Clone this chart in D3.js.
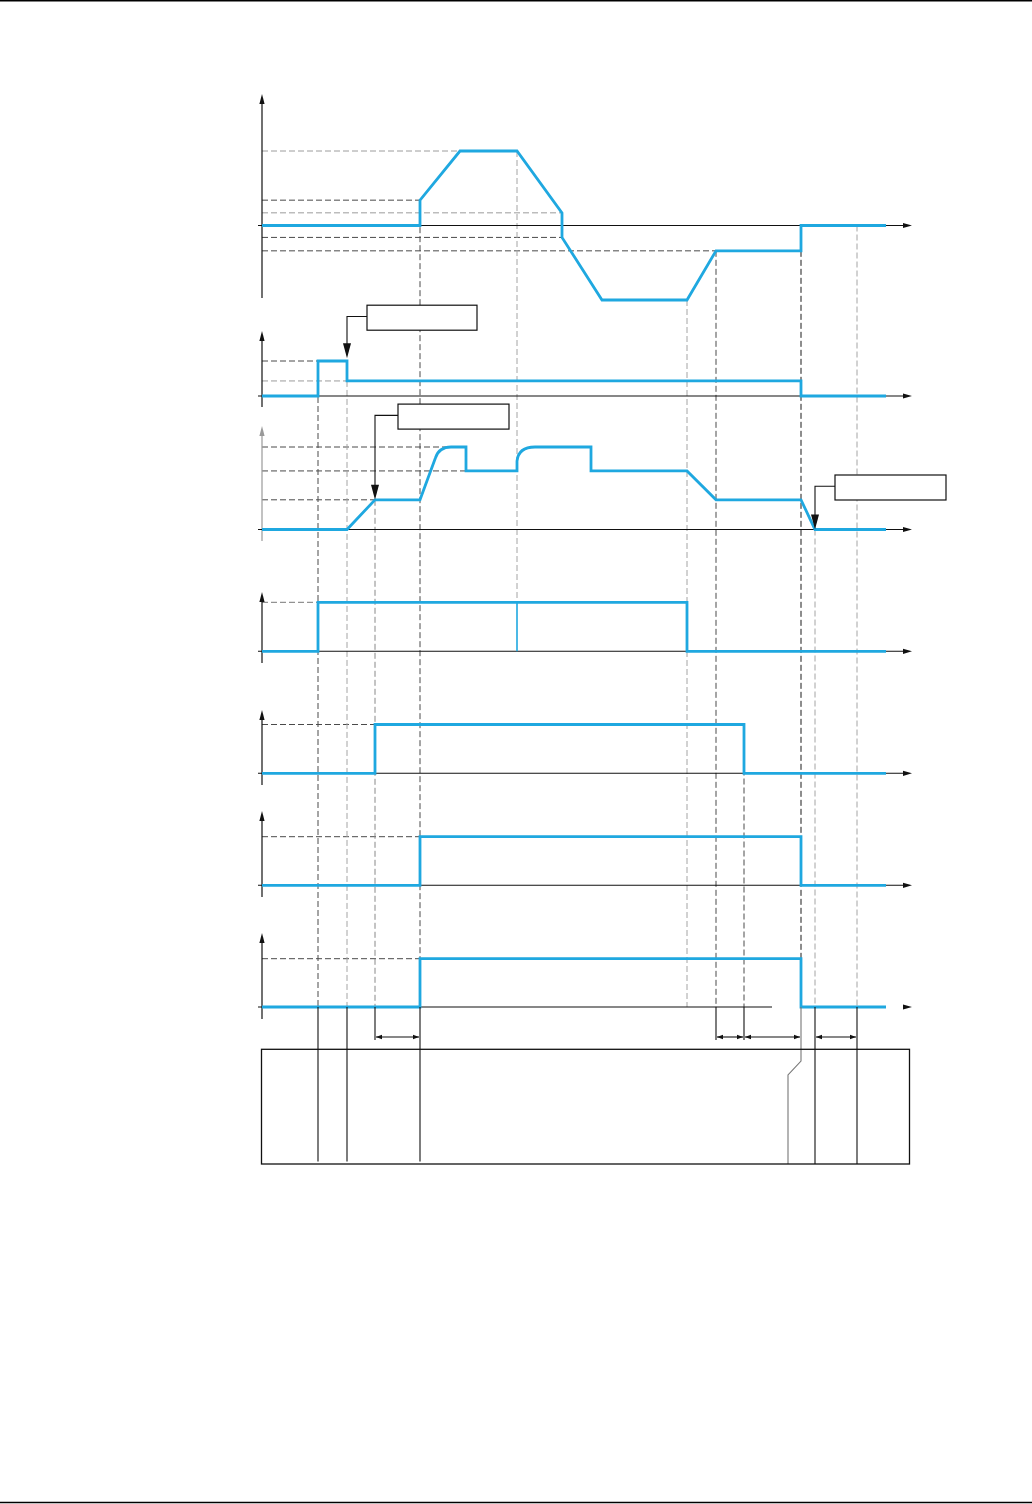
<!DOCTYPE html>
<html>
<head>
<meta charset="utf-8">
<title>Timing diagram</title>
<script src="https://cdn.jsdelivr.net/npm/d3@7"></script>
<style>
body { margin: 0; background: #fff; }
svg { display: block; }
</style>
</head>
<body>
<svg id="chart" width="1032" height="1504"></svg>
<script>
// common time axis (arbitrary units)
var timeEnd = 62.4;

// traces, [time, value]; a point flagged 'q' is a bend control point
var trace1 = [[0,0],[15.8,0],[15.8,34],[19.8,100],[25.5,100],[30,17],[30,-16],[34,-100],[42.5,-100],[45.4,-34],[53.9,-34],[53.9,0],[62.4,0]];
var trace2 = [[0,0],[5.6,0],[5.6,1],[8.5,1],[8.5,0.43],[53.9,0.43],[53.9,0],[62.4,0]];
var trace3 = [[0,0],[8.5,0],[11.3,36],[15.8,36],[17.35,87],[17.7,100,'q'],[18.9,100],[20.4,100],[20.4,71],[25.5,71],[25.5,83],[25.65,100,'q'],[27.3,100],[32.9,100],[32.9,71],[42.5,71],[45.4,36],[53.9,36],[55.3,0],[62.4,0]];
var trace4 = [[0,0],[5.6,0],[5.6,1],[42.5,1],[42.5,0],[62.4,0]];
var trace5 = [[0,0],[11.3,0],[11.3,1],[48.2,1],[48.2,0],[62.4,0]];
var trace6 = [[0,0],[15.8,0],[15.8,1],[53.9,1],[53.9,0],[62.4,0]];
var trace7 = [[0,0],[15.8,0],[15.8,1],[53.9,1],[53.9,0],[62.4,0]];
var traces = [trace1, trace2, trace3, trace4, trace5, trace6, trace7];

// extra thin edge in trace 4
var blip4 = [25.5, 0, 1];

// horizontal reference levels: [panel, value, time where it stops]
var levelsDark = [[0,34,15.8],[0,-16,30],[0,-34,45.4],[1,1,5.6],[2,100,19.3],[2,71,20.4],[2,36,11.3],[4,1,11.3],[5,1,15.8],[6,1,15.8]];
var levelsMid = [[3,1,5.6]];
var levelsLight = [[0,100,19.8],[0,17,30],[1,0.43,8.5]];

// vertical event lines: [time, panel, value where it starts]
var eventsDark = [[5.6,1,1],[15.8,0,34],[45.4,0,-34],[48.2,4,1]];
var eventsBlack = [[53.9,0,-34]];
var eventsMid = [[11.3,2,36]];
var eventsLight = [[8.5,1,0.43],[42.5,0,-100],[55.3,2,0],[59.5,0,0]];
var eventShort = [25.5,0,100,3,1]; // stops at panel 3 level

// below the last panel
var dropsLong = [5.6, 8.5, 15.8, 55.3, 59.5];
var dropsShort = [11.3, 45.4, 48.2];
var dropJog = 53.9;
var spans = [[11.3,15.8],[45.4,48.2],[48.2,53.9],[55.3,59.5]];

// callouts: [time, panel, value] of the arrow tip
var callouts = [[8.5,1,1.08],[11.3,2,36],[55.3,2,0]];

// ---- layout ----
var blue = "#1fa8e0";
var panels = [
  {zero: 225.5, ref: 100, refY: 151, top: 94, bottom: 298},
  {zero: 396, ref: 1, refY: 361, top: 331, bottom: 407},
  {zero: 529.5, ref: 100, refY: 447, top: 426, bottom: 541, axisColor: "#999"},
  {zero: 651.3, ref: 1, refY: 602.3, top: 592, bottom: 663},
  {zero: 773.3, ref: 1, refY: 724.5, top: 710, bottom: 785},
  {zero: 885.3, ref: 1, refY: 836.7, top: 811, bottom: 897},
  {zero: 1007, ref: 1, refY: 958.7, top: 933, bottom: 1019, lineEnd: 772}
];
var calloutBoxes = [{dx: 20, dy: -53, w: 110}, {dx: 23, dy: -95.7, w: 111}, {dx: 20, dy: -54.5, w: 111}];

var svg = d3.select("#chart");
var x = d3.scaleLinear().domain([0, timeEnd]).range([262, 886]);
var x0 = x(0);
var ys = panels.map(function(p) {
  return d3.scaleLinear().domain([0, p.ref]).range([p.zero, p.refY]);
});

// page rules
svg.append("line").attr("x1", 0).attr("x2", 1032).attr("y1", 0.8).attr("y2", 0.8)
  .attr("stroke", "#000").attr("stroke-width", 1.6);
svg.append("line").attr("x1", 0).attr("x2", 1032).attr("y1", 1502.5).attr("y2", 1502.5)
  .attr("stroke", "#000").attr("stroke-width", 1.6);

var refs = svg.append("g").attr("fill", "none").attr("stroke-width", 1).attr("stroke-dasharray", "6,3");

function drawLevels(list, color) {
  refs.selectAll(null).data(list).enter().append("line")
    .attr("x1", x0).attr("x2", function(d) { return x(d[2]); })
    .attr("y1", function(d) { return ys[d[0]](d[1]); })
    .attr("y2", function(d) { return ys[d[0]](d[1]); })
    .attr("stroke", color);
}
drawLevels(levelsDark, "#4a4a4a");
drawLevels(levelsMid, "#777");
drawLevels(levelsLight, "#9c9c9c");

var lastZero = panels[panels.length - 1].zero;
function drawEvents(list, color) {
  refs.selectAll(null).data(list).enter().append("line")
    .attr("x1", function(d) { return x(d[0]); }).attr("x2", function(d) { return x(d[0]); })
    .attr("y1", function(d) { return ys[d[1]](d[2]); })
    .attr("y2", lastZero)
    .attr("stroke", color);
}
drawEvents(eventsDark, "#4a4a4a");
drawEvents(eventsBlack, "#1a1a1a");
drawEvents(eventsMid, "#888");
drawEvents(eventsLight, "#a4a4a4");
refs.append("line")
  .attr("x1", x(eventShort[0])).attr("x2", x(eventShort[0]))
  .attr("y1", ys[eventShort[1]](eventShort[2])).attr("y2", ys[eventShort[3]](eventShort[4]))
  .attr("stroke", "#a4a4a4");

// axes
function arrowUp(g, cx, tip, color) {
  g.append("path").attr("d", "M" + cx + "," + tip + "L" + (cx - 2.6) + "," + (tip + 10) + "L" + (cx + 2.6) + "," + (tip + 10) + "Z")
    .attr("fill", color);
}
function arrowRight(g, tipX, cy) {
  g.append("path").attr("d", "M" + tipX + "," + cy + "L" + (tipX - 9) + "," + (cy - 2.6) + "L" + (tipX - 9) + "," + (cy + 2.6) + "Z")
    .attr("fill", "#111");
}
var axes = svg.append("g");
panels.forEach(function(p) {
  var c = p.axisColor || "#111";
  axes.append("line").attr("x1", x0).attr("x2", x0).attr("y1", p.bottom).attr("y2", p.top + 6)
    .attr("stroke", c).attr("stroke-width", 1.2);
  arrowUp(axes, x0, p.top, c);
  axes.append("line").attr("x1", x0 - 4).attr("x2", p.lineEnd || x(timeEnd) + 19)
    .attr("y1", p.zero).attr("y2", p.zero).attr("stroke", "#111").attr("stroke-width", 1.1);
  arrowRight(axes, x(timeEnd) + 26, p.zero);
});

// traces
function tracePath(pts, y) {
  var p = d3.path();
  pts.forEach(function(d, i) {
    if (i === 0) { p.moveTo(x(d[0]), y(d[1])); return; }
    if (pts[i - 1][2] === "q") return;
    if (d[2] === "q") {
      var n = pts[i + 1];
      p.quadraticCurveTo(x(d[0]), y(d[1]), x(n[0]), y(n[1]));
    } else {
      p.lineTo(x(d[0]), y(d[1]));
    }
  });
  return p.toString();
}
var tr = svg.append("g").attr("fill", "none").attr("stroke", blue)
  .attr("stroke-width", 2.8).attr("stroke-linejoin", "miter");
traces.forEach(function(t, i) {
  tr.append("path").attr("d", tracePath(t, ys[i]));
});
tr.append("line").attr("x1", x(blip4[0])).attr("x2", x(blip4[0]))
  .attr("y1", ys[3](blip4[1])).attr("y2", ys[3](blip4[2])).attr("stroke-width", 1.6);

// bottom part: drop lines, spans and box
var boxTop = 1049.3, boxBottom = 1164, spanY = 1037;
var low = svg.append("g").attr("stroke", "#111").attr("stroke-width", 1.1).attr("fill", "none");
low.selectAll(null).data(dropsLong).enter().append("line")
  .attr("x1", function(d) { return x(d); }).attr("x2", function(d) { return x(d); })
  .attr("y1", lastZero).attr("y2", function(d) { return d > dropJog ? boxBottom : boxBottom - 2.5; });
low.selectAll(null).data(dropsShort).enter().append("line")
  .attr("x1", function(d) { return x(d); }).attr("x2", function(d) { return x(d); })
  .attr("y1", lastZero).attr("y2", spanY + 3);
var jx = x(dropJog);
low.append("path").attr("stroke", "#777")
  .attr("d", "M" + jx + "," + lastZero + "V1061L" + (jx - 13) + ",1075V" + boxBottom);
low.append("rect").attr("x", x0 - 0.5).attr("y", boxTop).attr("width", 910 - x0).attr("height", boxBottom - boxTop)
  .attr("stroke-width", 1.3);

var sp = low.selectAll(null).data(spans).enter().append("g");
sp.append("line")
  .attr("x1", function(d) { return x(d[0]) + 1; }).attr("x2", function(d) { return x(d[1]) - 1; })
  .attr("y1", spanY).attr("y2", spanY);
sp.append("path").attr("fill", "#111").attr("stroke", "none")
  .attr("d", function(d) {
    var a = x(d[0]) + 1, b = x(d[1]) - 1;
    return "M" + a + "," + spanY + "l6,-2.2v4.4Z" + "M" + b + "," + spanY + "l-6,-2.2v4.4Z";
  });

// callout boxes with arrows
var co = svg.append("g");
callouts.forEach(function(d, i) {
  var tx = x(d[0]), ty = ys[d[1]](d[2]), b = calloutBoxes[i];
  var bx = tx + b.dx, by = ty + b.dy, ly = by + 11.3;
  co.append("rect").attr("x", bx).attr("y", by).attr("width", b.w).attr("height", 25)
    .attr("fill", "#fff").attr("stroke", "#111").attr("stroke-width", 1.2);
  co.append("path").attr("d", "M" + bx + "," + ly + "H" + tx + "V" + (ty - 12))
    .attr("fill", "none").attr("stroke", "#111").attr("stroke-width", 1.1);
  co.append("path").attr("d", "M" + tx + "," + ty + "L" + (tx - 4) + "," + (ty - 15) + "L" + (tx + 4) + "," + (ty - 15) + "Z")
    .attr("fill", "#111");
});
</script>
</body>
</html>
